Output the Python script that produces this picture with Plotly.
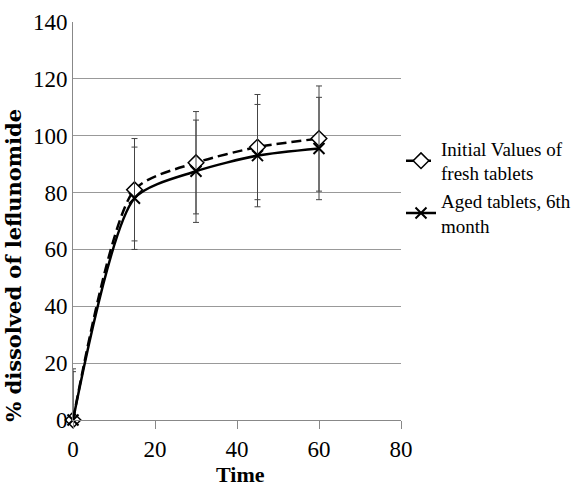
import plotly.graph_objects as go

time = [0, 15, 30, 45, 60]
initial_vals = [0, 81, 90.5, 96, 99]
initial_err = [18, 18, 18, 18.5, 18.5]
aged_vals = [0, 78, 87.5, 93, 95.5]
aged_err = [17, 18, 18, 18, 18]

series_names = ["Initial Values of<br>fresh tablets", "Aged tablets, 6th<br>month"]
y_title = "% dissolved of leflunomide"
x_title = "Time"

SERIF = "Liberation Serif"

fig = go.Figure()
fig.add_trace(go.Scatter(
    x=time, y=initial_vals, name=series_names[0], mode="lines+markers",
    line=dict(color="black", width=2.5, dash="10px,5px", shape="spline", smoothing=0.7),
    marker=dict(symbol="diamond", size=12, color="white", line=dict(width=1.5, color="black")),
    error_y=dict(type="data", array=initial_err, visible=True, color="#444", thickness=1, width=3),
    cliponaxis=False,
))
fig.add_trace(go.Scatter(
    x=time, y=aged_vals, name=series_names[1], mode="lines+markers",
    line=dict(color="black", width=2.5, shape="spline", smoothing=0.7),
    marker=dict(symbol="x-thin-open", size=11, color="black", line=dict(width=2, color="black")),
    error_y=dict(type="data", array=aged_err, visible=True, color="#444", thickness=1, width=3),
    cliponaxis=False,
))

fig.update_layout(
    width=581, height=489,
    margin=dict(l=73, r=180, t=22, b=69, autoexpand=False),
    paper_bgcolor="white", plot_bgcolor="white",
    font=dict(family=SERIF, color="black"),
    showlegend=True,
    legend=dict(x=1.0, y=0.73, xanchor="left", yanchor="top",
                font=dict(family=SERIF, size=19, color="black"),
                tracegroupgap=4, itemwidth=30, bgcolor="rgba(0,0,0,0)"),
    xaxis=dict(range=[0, 80], tickvals=[0, 20, 40, 60, 80], showgrid=False,
               showline=True, linecolor="#888", linewidth=1,
               ticks="outside", ticklen=8, tickcolor="#888",
               tickfont=dict(family=SERIF, size=23, color="black"), zeroline=False),
    yaxis=dict(range=[0, 140], tickvals=[0, 20, 40, 60, 80, 100, 120, 140],
               showgrid=True, gridcolor="#999", gridwidth=1,
               showline=True, linecolor="#888", linewidth=1, zeroline=False,
               ticks="", tickfont=dict(family=SERIF, size=23, color="black")),
    annotations=[
        dict(text="<b>" + y_title + "</b>", textangle=-90,
             xref="paper", yref="paper", x=-0.18, y=0.39,
             xanchor="center", yanchor="middle", showarrow=False,
             font=dict(family="DejaVu Serif", size=21, color="black")),
        dict(text="<b>" + x_title + "</b>",
             xref="paper", yref="paper", x=0.51, y=-0.137,
             xanchor="center", yanchor="middle", showarrow=False,
             font=dict(family=SERIF, size=22, color="black")),
    ],
)

fig.write_html("out.html")
